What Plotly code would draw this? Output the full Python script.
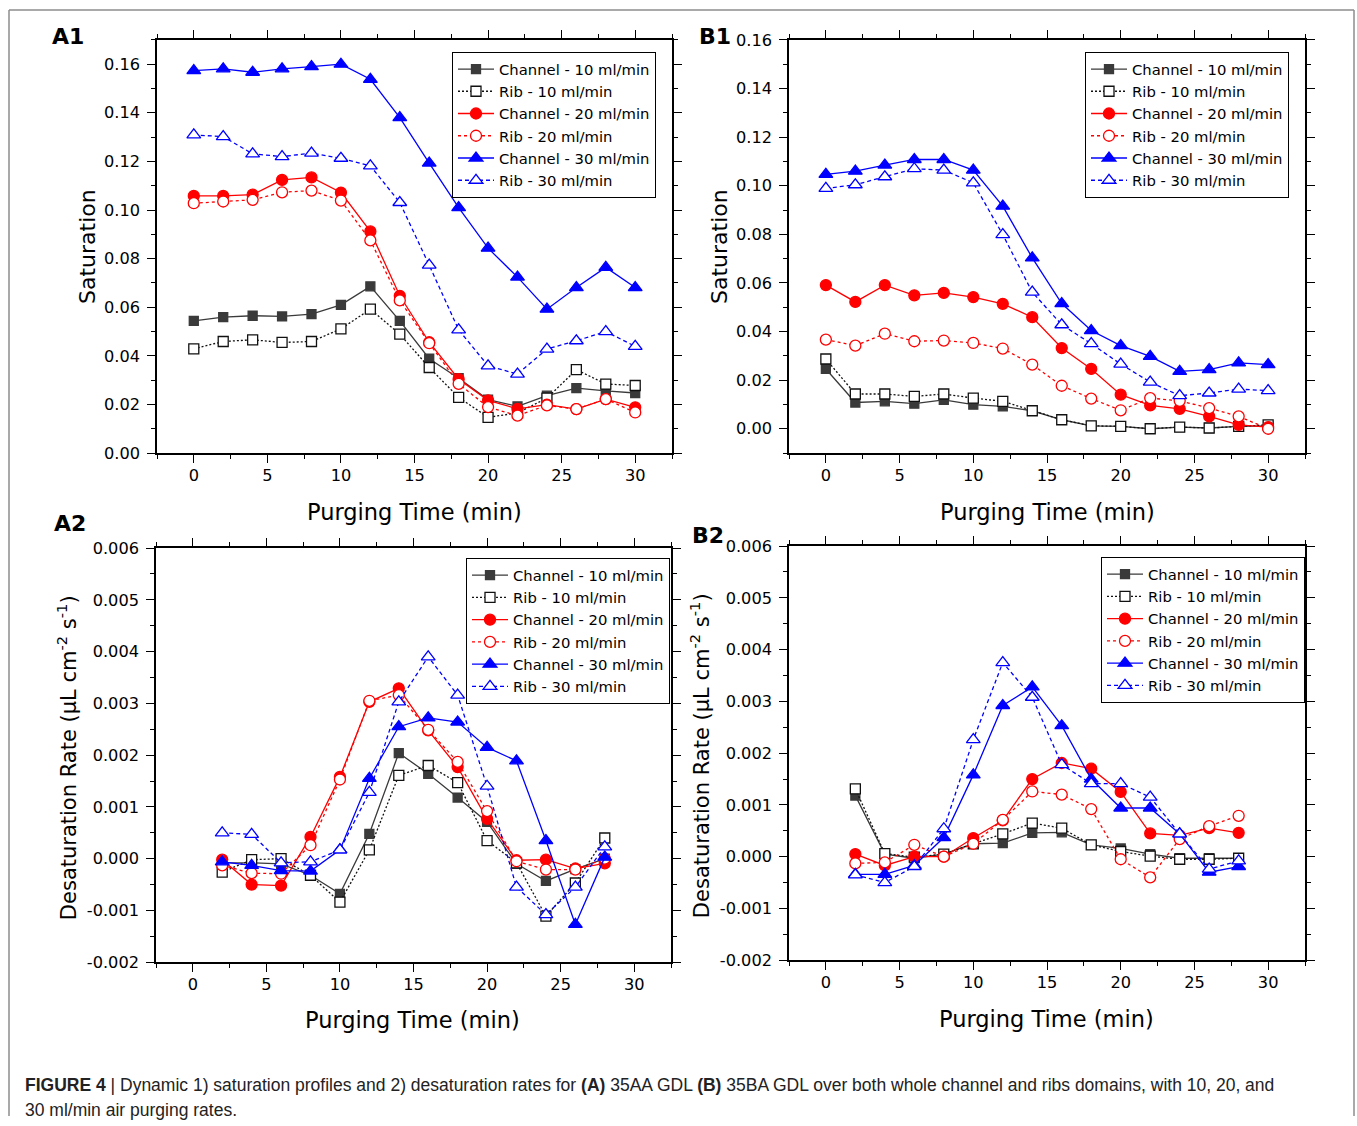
import plotly.graph_objects as go

W, H = 1357, 1126

# ---------------- data ----------------
t_sat = [0, 2, 4, 6, 8, 10, 12, 14, 16, 18, 20, 22, 24, 26, 28, 30]
t_rate = [2, 4, 6, 8, 10, 12, 14, 16, 18, 20, 22, 24, 26, 28]

a1_ch10 = [0.0544, 0.0559, 0.0565, 0.0562, 0.0572, 0.0610, 0.0686, 0.0544, 0.0388, 0.0308, 0.0220, 0.0192, 0.0236, 0.0267, 0.0256, 0.0247]
a1_rib10 = [0.0429, 0.0459, 0.0466, 0.0455, 0.0459, 0.0511, 0.0592, 0.0489, 0.0352, 0.0229, 0.0147, 0.0165, 0.0226, 0.0343, 0.0284, 0.0278]
a1_ch20 = [0.1058, 0.1058, 0.1063, 0.1124, 0.1134, 0.1072, 0.0912, 0.0647, 0.0456, 0.0304, 0.0217, 0.0182, 0.0199, 0.0181, 0.0222, 0.0188]
a1_rib20 = [0.1028, 0.1035, 0.1042, 0.1073, 0.1080, 0.1039, 0.0875, 0.0628, 0.0452, 0.0285, 0.0189, 0.0154, 0.0196, 0.0181, 0.0222, 0.0167]
a1_ch30 = [0.1574, 0.1581, 0.1567, 0.1581, 0.1590, 0.1600, 0.1538, 0.1380, 0.1193, 0.1010, 0.0843, 0.0724, 0.0592, 0.0681, 0.0764, 0.0681]
a1_rib30 = [0.1309, 0.1302, 0.1231, 0.1220, 0.1234, 0.1213, 0.1182, 0.1031, 0.0773, 0.0507, 0.0359, 0.0325, 0.0428, 0.0462, 0.0500, 0.0439]

b1_ch10 = [0.0246, 0.0108, 0.0113, 0.0103, 0.0119, 0.0099, 0.0092, 0.0074, 0.0037, 0.0012, 0.0010, 0.0000, 0.0007, 0.0003, 0.0010, 0.0012]
b1_rib10 = [0.0287, 0.0143, 0.0143, 0.0133, 0.0143, 0.0126, 0.0113, 0.0074, 0.0037, 0.0012, 0.0010, 0.0000, 0.0007, 0.0003, 0.0010, 0.0016]
b1_ch20 = [0.0591, 0.0522, 0.0591, 0.0549, 0.0559, 0.0542, 0.0514, 0.0459, 0.0332, 0.0246, 0.0140, 0.0096, 0.0082, 0.0051, 0.0016, 0.0007]
b1_rib20 = [0.0367, 0.0342, 0.0391, 0.0360, 0.0363, 0.0353, 0.0330, 0.0264, 0.0177, 0.0124, 0.0076, 0.0126, 0.0115, 0.0085, 0.0051, 0.0000]
b1_ch30 = [0.1047, 0.1060, 0.1085, 0.1108, 0.1108, 0.1064, 0.0916, 0.0703, 0.0515, 0.0404, 0.0342, 0.0298, 0.0236, 0.0243, 0.0271, 0.0264]
b1_rib30 = [0.0989, 0.1004, 0.1037, 0.1070, 0.1064, 0.1012, 0.0799, 0.0562, 0.0428, 0.0350, 0.0266, 0.0192, 0.0136, 0.0147, 0.0163, 0.0157]

a2_ch10 = [-0.00008, -0.00008, -0.00010, -0.00032, -0.00068, 0.00048, 0.00204, 0.00164, 0.00118, 0.00071, -0.00010, -0.00043, -0.00020, 0.00000]
a2_rib10 = [-0.00026, -0.00002, 0.00000, -0.00032, -0.00084, 0.00017, 0.00161, 0.00180, 0.00147, 0.00035, -0.00008, -0.00111, -0.00047, 0.00040]
a2_ch20 = [-0.00002, -0.00050, -0.00052, 0.00042, 0.00158, 0.00303, 0.00329, 0.00248, 0.00177, 0.00077, -0.00003, -0.00002, -0.00019, -0.00009]
a2_rib20 = [-0.00013, -0.00028, -0.00029, 0.00026, 0.00153, 0.00305, 0.00316, 0.00249, 0.00187, 0.00092, -0.00005, -0.00021, -0.00021, 0.00000]
a2_ch30 = [-0.00006, -0.00013, -0.00023, -0.00024, 0.00017, 0.00155, 0.00255, 0.00272, 0.00264, 0.00215, 0.00189, 0.00035, -0.00127, 0.00003]
a2_rib30 = [0.00050, 0.00047, -0.00008, -0.00006, 0.00017, 0.00128, 0.00303, 0.00390, 0.00316, 0.00140, -0.00055, -0.00108, -0.00055, 0.00023]

b2_ch10 = [0.00118, 0.00005, -0.00003, 0.00005, 0.00025, 0.00026, 0.00046, 0.00047, 0.00023, 0.00016, 0.00005, -0.00003, -0.00003, -0.00003]
b2_rib10 = [0.00131, 0.00006, -0.00001, 0.00005, 0.00025, 0.00044, 0.00065, 0.00055, 0.00023, 0.00010, 0.00001, -0.00005, -0.00005, -0.00003]
b2_ch20 = [0.00005, -0.00017, 0.00000, 0.00000, 0.00036, 0.00070, 0.00150, 0.00181, 0.00170, 0.00125, 0.00045, 0.00041, 0.00055, 0.00046]
b2_rib20 = [-0.00013, -0.00011, 0.00023, 0.00000, 0.00025, 0.00071, 0.00126, 0.00120, 0.00092, -0.00005, -0.00040, 0.00034, 0.00059, 0.00079]
b2_ch30 = [-0.00034, -0.00034, -0.00017, 0.00037, 0.00158, 0.00292, 0.00328, 0.00253, 0.00150, 0.00094, 0.00094, 0.00044, -0.00030, -0.00019]
b2_rib30 = [-0.00035, -0.00050, -0.00019, 0.00054, 0.00226, 0.00375, 0.00308, 0.00178, 0.00141, 0.00141, 0.00115, 0.00044, -0.00024, -0.00008]

series_names = ["Channel - 10 ml/min", "Rib - 10 ml/min", "Channel - 20 ml/min",
                "Rib - 20 ml/min", "Channel - 30 ml/min", "Rib - 30 ml/min"]

x_tickvals = [0, 5, 10, 15, 20, 25, 30]
x_ticktext = ["0", "5", "10", "15", "20", "25", "30"]
sat_tickvals = [0.00, 0.02, 0.04, 0.06, 0.08, 0.10, 0.12, 0.14, 0.16]
sat_ticktext = ["0.00", "0.02", "0.04", "0.06", "0.08", "0.10", "0.12", "0.14", "0.16"]
rate_tickvals = [-0.002, -0.001, 0.000, 0.001, 0.002, 0.003, 0.004, 0.005, 0.006]
rate_ticktext = ["-0.002", "-0.001", "0.000", "0.001", "0.002", "0.003", "0.004", "0.005", "0.006"]

# ---------------- styles ----------------
FONT = "DejaVu Sans, Liberation Sans, Arial, sans-serif"
CAP_FONT = "Liberation Sans, Arial, sans-serif"
GRAY = "#3a3a3a"
RED = "#ff0000"
BLUE = "#0000ff"
styles = [
    dict(color=GRAY, dash="solid", symbol="square", fill=GRAY, size=9),
    dict(color="#111111", dash="2px,2px", symbol="square", fill="white", size=10),
    dict(color=RED, dash="solid", symbol="circle", fill=RED, size=11),
    dict(color=RED, dash="3px,3px", symbol="circle", fill="white", size=11),
    dict(color=BLUE, dash="solid", symbol="triangle-up", fill=BLUE, size=12),
    dict(color=BLUE, dash="4px,3px", symbol="triangle-up", fill="white", size=12),
]

# vertical compensation for the page capture (observed: y_shown = 0.9828*y + 9.1)
VS, VO = 0.9828, 9.1


def px2x(px):
    return px / W


def py2y(py):
    return 1 - ((py - VO) / VS) / H


panels = [
    dict(key="", t=t_sat, data=[a1_ch10, a1_rib10, a1_ch20, a1_rib20, a1_ch30, a1_rib30],
         xd=(157, 672), yd=(40, 453), yr=[0.0, 0.17], yt=(sat_tickvals, sat_ticktext), ydt=0.01,
         legend="legend", leg=(452, 52)),
    dict(key="2", t=t_sat, data=[b1_ch10, b1_rib10, b1_ch20, b1_rib20, b1_ch30, b1_rib30],
         xd=(789, 1305), yd=(40, 453), yr=[-0.01, 0.16], yt=(sat_tickvals, sat_ticktext), ydt=0.01,
         legend="legend2", leg=(1085, 52)),
    dict(key="3", t=t_rate, data=[a2_ch10, a2_rib10, a2_ch20, a2_rib20, a2_ch30, a2_rib30],
         xd=(156, 671), yd=(548, 962), yr=[-0.002, 0.006], yt=(rate_tickvals, rate_ticktext), ydt=0.0005,
         legend="legend3", leg=(466, 558)),
    dict(key="4", t=t_rate, data=[b2_ch10, b2_rib10, b2_ch20, b2_rib20, b2_ch30, b2_rib30],
         xd=(789, 1305), yd=(546, 960), yr=[-0.002, 0.006], yt=(rate_tickvals, rate_ticktext), ydt=0.0005,
         legend="legend4", leg=(1101, 557)),
]

fig = go.Figure()
layout = dict(
    width=W, height=H, margin=dict(l=0, r=0, t=0, b=0),
    paper_bgcolor="white", plot_bgcolor="white",
    font=dict(family=FONT, size=16, color="black"),
    showlegend=True,
)

for p in panels:
    k = p["key"]
    for name, ys, st in zip(series_names, p["data"], styles):
        fig.add_trace(go.Scatter(
            x=p["t"], y=ys, name=name, mode="lines+markers",
            xaxis="x" + k, yaxis="y" + k, legend=p["legend"],
            line=dict(color=st["color"], width=1.3, dash=st["dash"]),
            marker=dict(symbol=st["symbol"], size=st["size"], color=st["fill"],
                        line=dict(color=st["color"], width=1.3)),
        ))
    common = dict(showline=True, linecolor="black", linewidth=1.5, mirror="ticks",
                  ticks="outside", ticklen=8, tickwidth=1.3, tickcolor="black",
                  showgrid=False, zeroline=False,
                  tickfont=dict(family=FONT, size=16.2, color="black"))
    layout["xaxis" + k] = dict(
        common, domain=[px2x(p["xd"][0]), px2x(p["xd"][1])], range=[-2.5, 32.5],
        anchor="y" + k, tickmode="array", tickvals=x_tickvals, ticktext=x_ticktext,
        minor=dict(ticks="outside", ticklen=4, tickwidth=1.1, tickcolor="black", dtick=2.5, tick0=0),
        ticklabelstandoff=-1,
    )
    layout["yaxis" + k] = dict(
        common, domain=[py2y(p["yd"][1]), py2y(p["yd"][0])], range=p["yr"],
        anchor="x" + k, tickmode="array", tickvals=p["yt"][0], ticktext=p["yt"][1],
        minor=dict(ticks="outside", ticklen=4, tickwidth=1.1, tickcolor="black", dtick=p["ydt"], tick0=0),
        ticklabelstandoff=4,
    )
    layout[p["legend"]] = dict(
        x=px2x(p["leg"][0]), y=py2y(p["leg"][1]), xanchor="left", yanchor="top",
        bgcolor="white", bordercolor="black", borderwidth=1,
        font=dict(family=FONT, size=14.8, color="black"),
        tracegroupgap=0, itemwidth=36,
    )

annotations = []
# panel labels
for txt, x, y in [("A1", 50, 37), ("B1", 697, 37), ("A2", 52, 523), ("B2", 690, 535)]:
    annotations.append(dict(text="<b>" + txt + "</b>", x=px2x(x), y=py2y(y), xref="paper", yref="paper",
                            xanchor="left", yanchor="middle", showarrow=False,
                            font=dict(family=FONT, size=22, color="black")))
# axis titles
for x, y in [(414, 512), (1047, 512), (412, 1020), (1046, 1019)]:
    annotations.append(dict(text="Purging Time (min)", x=px2x(x), y=py2y(y), xref="paper", yref="paper",
                            xanchor="center", yanchor="middle", showarrow=False,
                            font=dict(family=FONT, size=22.5, color="black")))
for x, y in [(88, 247), (720, 247)]:
    annotations.append(dict(text="Saturation", x=px2x(x), y=py2y(y), xref="paper", yref="paper",
                            xanchor="center", yanchor="middle", showarrow=False, textangle=-90,
                            font=dict(family=FONT, size=22, color="black")))
for x, y in [(67, 758), (700, 756)]:
    annotations.append(dict(text="Desaturation Rate (μL cm<sup>-2</sup> s<sup>-1</sup>)",
                            x=px2x(x), y=py2y(y), xref="paper", yref="paper",
                            xanchor="center", yanchor="middle", showarrow=False, textangle=-90,
                            font=dict(family=FONT, size=21, color="black")))
# caption
annotations.append(dict(
    text="<b>FIGURE 4</b> | Dynamic 1) saturation profiles and 2) desaturation rates for <b>(A)</b> 35AA GDL "
         "<b>(B)</b> 35BA GDL over both whole channel and ribs domains, with 10, 20, and",
    x=px2x(23), y=py2y(1085), xref="paper", yref="paper", xanchor="left", yanchor="middle",
    showarrow=False, font=dict(family=CAP_FONT, size=17.5, color="#222222")))
annotations.append(dict(
    text="30 ml/min air purging rates.",
    x=px2x(23), y=py2y(1110), xref="paper", yref="paper", xanchor="left", yanchor="middle",
    showarrow=False, font=dict(family=CAP_FONT, size=17.5, color="#222222")))
layout["annotations"] = annotations

# outer border
TOP = 0.999
layout["shapes"] = [
    dict(type="line", xref="paper", yref="paper", x0=px2x(9), x1=px2x(1354), y0=TOP, y1=TOP,
         line=dict(color="#8c8c8c", width=1.5)),
    dict(type="line", xref="paper", yref="paper", x0=px2x(9), x1=px2x(9), y0=TOP, y1=0,
         line=dict(color="#8c8c8c", width=1.5)),
    dict(type="line", xref="paper", yref="paper", x0=px2x(1354), x1=px2x(1354), y0=TOP, y1=0,
         line=dict(color="#8c8c8c", width=1.5)),
]

fig.update_layout(**layout)
fig.write_html("out.html")
